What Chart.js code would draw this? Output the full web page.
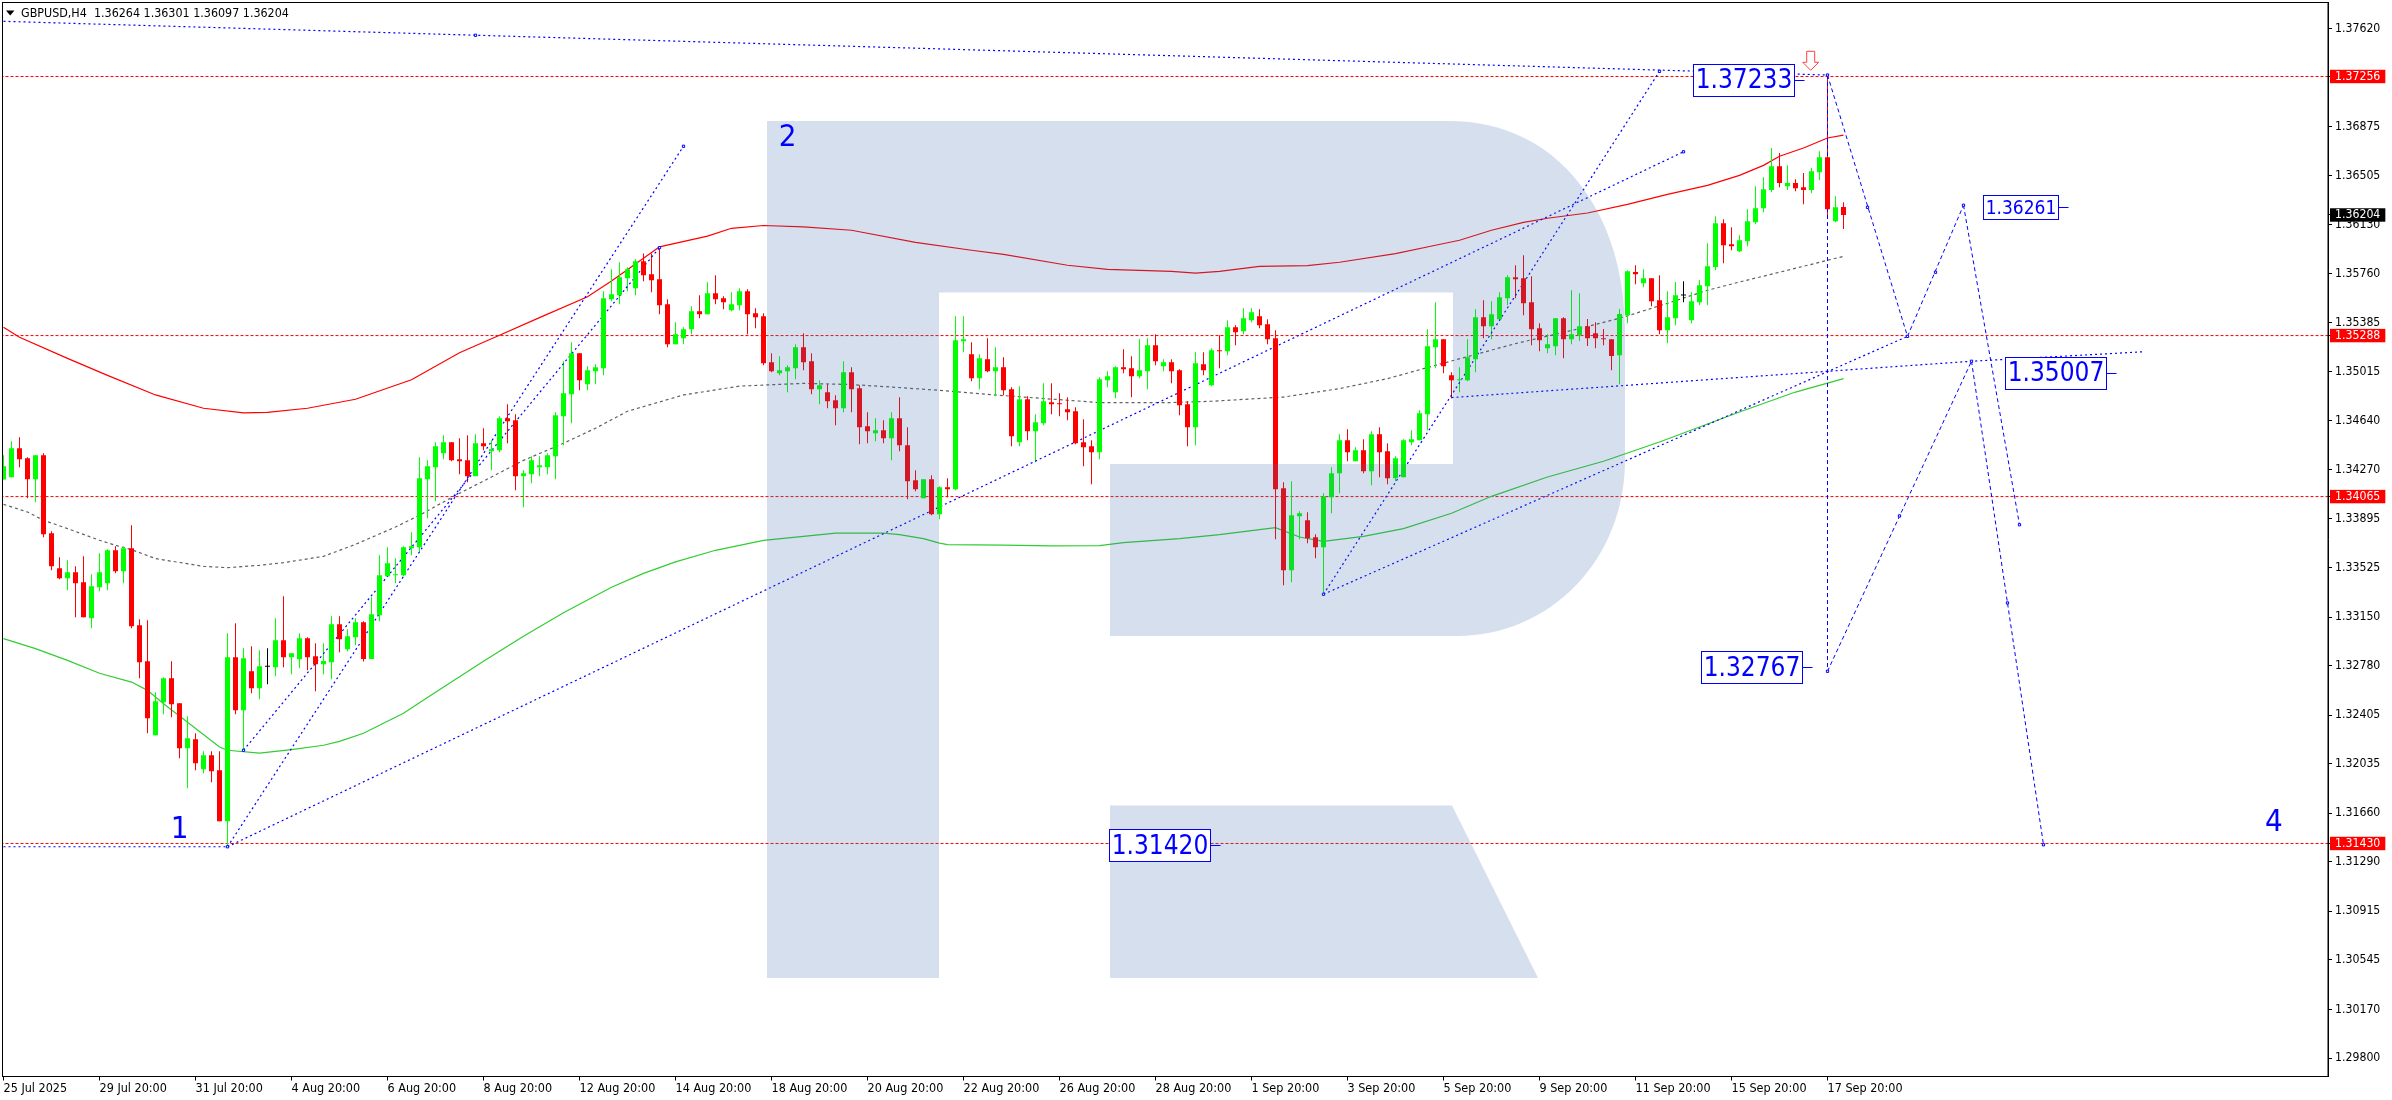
<!DOCTYPE html>
<html>
<head>
<meta charset="utf-8">
<title>GBPUSD,H4</title>
<script src="https://cdn.jsdelivr.net/npm/chart.js@4/dist/chart.umd.min.js"></script>
<style>
  html, body { margin: 0; padding: 0; background: #fff; }
  canvas { display: block; }
</style>
</head>
<body>
<canvas id="chart" width="2392" height="1100"></canvas>
<script>
// candles, one value per 4h bar, bar 0 = 25 Jul 2025
const opens = [
1.34194,1.34212,1.34432,1.34356,1.34197,1.34379,1.33787,1.33521,1.33445,1.33490,
1.33414,1.33141,1.33376,1.33407,1.33657,1.33498,1.33673,1.33088,1.32814,1.32252,
1.32503,1.32685,1.32495,1.32153,1.32222,1.31994,1.32100,1.31986,1.31599,1.32845,
1.32442,1.32738,1.32609,1.32773,1.32769,1.32974,1.32845,1.32830,1.32989,1.32852,
1.32791,1.32807,1.33095,1.32905,1.32996,1.33110,1.32832,1.33163,1.33460,1.33467,
1.33467,1.33672,1.33680,1.34197,1.34288,1.34394,1.34478,1.34348,1.34341,1.34219,
1.34470,1.34409,1.34417,1.34660,1.34645,1.34219,1.34235,1.34288,1.34288,1.34371,
1.34675,1.34842,1.35154,1.34918,1.35017,1.35040,1.35564,1.35594,1.35723,1.35647,
1.35852,1.35754,1.35716,1.35526,1.35222,1.35268,1.35336,1.35473,1.35450,1.35609,
1.35571,1.35480,1.35518,1.35625,1.35457,1.35435,1.35085,1.35002,1.35017,1.35040,
1.35199,1.35093,1.34880,1.34857,1.34797,1.34736,1.35009,1.34888,1.34599,1.34546,
1.34569,1.34508,1.34660,1.34455,1.34189,1.34052,1.34196,1.33930,1.34136,1.34120,
1.35245,1.35146,1.34964,1.35108,1.35017,1.35047,1.34880,1.34477,1.34804,1.34561,
1.34622,1.34781,1.34774,1.34728,1.34713,1.34477,1.34447,1.34401,1.34948,1.34857,
1.35047,1.35039,1.34979,1.35017,1.35214,1.35055,1.35085,1.35024,1.34766,1.34591,
1.35070,1.34910,1.35176,1.35169,1.35351,1.35321,1.35404,1.35435,1.35374,1.35268,
1.34128,1.33505,1.33915,1.33885,1.33756,1.33680,1.34060,1.34242,1.34493,1.34333,
1.34417,1.34257,1.34538,1.34409,1.34204,1.34212,1.34478,1.34493,1.34690,1.35199,
1.35260,1.34986,1.34949,1.34949,1.35108,1.35427,1.35359,1.35412,1.35571,1.35731,
1.35723,1.35541,1.35344,1.35192,1.35207,1.35420,1.35261,1.35291,1.35359,1.35306,
1.35268,1.35261,1.35139,1.35443,1.35770,1.35686,1.35724,1.35557,1.35329,1.35420,
1.35592,1.35405,1.35542,1.35663,1.35808,1.36142,1.35982,1.35929,1.36005,1.36149,
1.36256,1.36393,1.36575,1.36423,1.36446,1.36415,1.36393,1.36529,1.36643,1.36157,1.36264];

const highs = [
1.34379,1.34485,1.34516,1.34364,1.34379,1.34394,1.33802,1.33604,1.33582,1.33536,
1.33612,1.33475,1.33635,1.33665,1.33688,1.33688,1.33847,1.33133,1.33126,1.32579,
1.32693,1.32814,1.32495,1.32397,1.32267,1.32131,1.32131,1.32131,1.33027,1.33103,
1.32913,1.32928,1.32898,1.32913,1.33141,1.33308,1.32875,1.33027,1.32997,1.32951,
1.32951,1.33156,1.33156,1.33057,1.33141,1.33118,1.33300,1.33619,1.33680,1.33596,
1.33688,1.33794,1.34364,1.34341,1.34478,1.34531,1.34478,1.34508,1.34531,1.34538,
1.34584,1.34493,1.34675,1.34766,1.34690,1.34265,1.34371,1.34371,1.34394,1.34705,
1.35093,1.35237,1.35154,1.35055,1.35070,1.35625,1.35792,1.35845,1.35807,1.35868,
1.35911,1.35911,1.35956,1.35564,1.35389,1.35351,1.35511,1.35594,1.35693,1.35746,
1.35587,1.35617,1.35647,1.35640,1.35495,1.35457,1.35154,1.35131,1.35062,1.35222,
1.35305,1.35154,1.34948,1.34918,1.34835,1.35093,1.35047,1.34910,1.34705,1.34660,
1.34645,1.34705,1.34819,1.34591,1.34265,1.34196,1.34227,1.34143,1.34204,1.35434,
1.35434,1.35237,1.35146,1.35267,1.35199,1.35123,1.34895,1.34903,1.34827,1.34690,
1.34926,1.34926,1.34850,1.34819,1.34743,1.34652,1.34493,1.34971,1.35017,1.35055,
1.35184,1.35131,1.35260,1.35267,1.35298,1.35108,1.35108,1.35032,1.34789,1.35161,
1.35161,1.35191,1.35290,1.35404,1.35366,1.35495,1.35495,1.35488,1.35412,1.35328,
1.34174,1.34181,1.33953,1.33946,1.33779,1.34090,1.34288,1.34538,1.34576,1.34440,
1.34500,1.34561,1.34592,1.34470,1.34371,1.34500,1.34569,1.34721,1.35336,1.35541,
1.35260,1.35009,1.35047,1.35260,1.35488,1.35556,1.35549,1.35617,1.35746,1.35822,
1.35898,1.35739,1.35381,1.35298,1.35419,1.35428,1.35633,1.35610,1.35413,1.35390,
1.35337,1.35261,1.35489,1.35785,1.35823,1.35792,1.35724,1.35747,1.35625,1.35694,
1.35701,1.35618,1.35709,1.35990,1.36195,1.36172,1.36111,1.36051,1.36248,1.36423,
1.36491,1.36712,1.36674,1.36582,1.36476,1.36522,1.36560,1.36689,1.37266,1.36347,1.36301];

const lows = [
1.34194,1.34212,1.34288,1.34052,1.34022,1.33756,1.33506,1.33437,1.33354,1.33149,
1.33149,1.33065,1.33346,1.33354,1.33483,1.33407,1.33065,1.32685,1.32267,1.32252,
1.32412,1.32389,1.32077,1.31850,1.31986,1.31964,1.31895,1.31599,1.31417,1.32412,
1.32138,1.32571,1.32526,1.32640,1.32700,1.32769,1.32716,1.32761,1.32746,1.32586,
1.32715,1.32677,1.32882,1.32890,1.32936,1.32812,1.32832,1.33118,1.33455,1.33407,
1.33460,1.33619,1.33642,1.33900,1.34029,1.34348,1.34333,1.34235,1.34174,1.34219,
1.34417,1.34265,1.34402,1.34470,1.34113,1.33984,1.34166,1.34219,1.34235,1.34197,
1.34455,1.34622,1.34873,1.34873,1.34918,1.34987,1.35549,1.35526,1.35625,1.35594,
1.35700,1.35617,1.35450,1.35199,1.35222,1.35222,1.35298,1.35419,1.35450,1.35526,
1.35488,1.35473,1.35480,1.35298,1.35343,1.35062,1.35009,1.34986,1.34857,1.34956,
1.35024,1.34842,1.34766,1.34736,1.34607,1.34705,1.34705,1.34462,1.34470,1.34485,
1.34470,1.34341,1.34409,1.34045,1.34105,1.34052,1.33923,1.33892,1.34060,1.34113,
1.35161,1.34941,1.34880,1.35009,1.34827,1.34834,1.34447,1.34447,1.34493,1.34325,
1.34606,1.34690,1.34675,1.34644,1.34462,1.34295,1.34158,1.34348,1.34895,1.34812,
1.35001,1.34819,1.34964,1.34880,1.35062,1.35017,1.34926,1.34682,1.34447,1.34455,
1.34986,1.34903,1.35039,1.35138,1.35214,1.35298,1.35389,1.35344,1.35222,1.33741,
1.33391,1.33414,1.33741,1.33710,1.33596,1.33323,1.33938,1.34090,1.34333,1.34333,
1.34242,1.34151,1.34212,1.34159,1.34181,1.34212,1.34455,1.34493,1.34569,1.35040,
1.35002,1.34812,1.34857,1.34941,1.35009,1.35268,1.35260,1.35404,1.35518,1.35571,
1.35442,1.35214,1.35169,1.35154,1.35138,1.35116,1.35223,1.35246,1.35208,1.35192,
1.35215,1.35025,1.34919,1.35382,1.35678,1.35656,1.35511,1.35299,1.35230,1.35367,
1.35542,1.35382,1.35519,1.35519,1.35785,1.35838,1.35937,1.35922,1.35967,1.36134,
1.36225,1.36377,1.36415,1.36393,1.36385,1.36286,1.36370,1.36468,1.36187,1.36149,1.36097];

const closes = [
1.34296,1.34432,1.34349,1.34197,1.34379,1.33779,1.33536,1.33445,1.33490,1.33407,
1.33149,1.33384,1.33490,1.33657,1.33498,1.33673,1.33080,1.32807,1.32381,1.32510,
1.32685,1.32488,1.32153,1.32229,1.32040,1.32100,1.31979,1.31599,1.32845,1.32442,
1.32837,1.32609,1.32776,1.32773,1.32974,1.32845,1.32875,1.32989,1.32845,1.32792,
1.32817,1.33095,1.32981,1.33004,1.33110,1.32832,1.33171,1.33467,1.33558,1.33475,
1.33680,1.33688,1.34204,1.34295,1.34447,1.34478,1.34341,1.34333,1.34219,1.34470,
1.34447,1.34424,1.34660,1.34637,1.34219,1.34242,1.34341,1.34303,1.34379,1.34683,
1.34850,1.35154,1.34949,1.35025,1.35047,1.35571,1.35602,1.35731,1.35792,1.35852,
1.35746,1.35708,1.35518,1.35222,1.35298,1.35336,1.35473,1.35450,1.35609,1.35564,
1.35541,1.35526,1.35625,1.35450,1.35427,1.35078,1.35017,1.35024,1.35047,1.35199,
1.35085,1.34880,1.34910,1.34789,1.34736,1.35009,1.34880,1.34591,1.34561,1.34569,
1.34508,1.34660,1.34455,1.34181,1.34121,1.34196,1.33931,1.34136,1.34120,1.35252,
1.35260,1.34964,1.35115,1.35017,1.35047,1.34872,1.34523,1.34804,1.34561,1.34629,
1.34789,1.34766,1.34766,1.34705,1.34470,1.34439,1.34401,1.34956,1.34979,1.35047,
1.35032,1.34979,1.35024,1.35214,1.35093,1.35085,1.35017,1.34758,1.34591,1.35077,
1.35024,1.35176,1.35169,1.35351,1.35313,1.35419,1.35465,1.35366,1.35260,1.34121,
1.33505,1.33923,1.33938,1.33748,1.33680,1.34067,1.34242,1.34493,1.34402,1.34417,
1.34257,1.34538,1.34402,1.34204,1.34356,1.34493,1.34500,1.34698,1.35207,1.35260,
1.35055,1.34949,1.34956,1.35123,1.35427,1.35359,1.35450,1.35579,1.35731,1.35716,
1.35533,1.35336,1.35252,1.35222,1.35419,1.35261,1.35299,1.35359,1.35268,1.35268,
1.35261,1.35132,1.35451,1.35777,1.35754,1.35724,1.35549,1.35329,1.35428,1.35595,
1.35592,1.35549,1.35671,1.35815,1.36142,1.35975,1.35967,1.36013,1.36157,1.36256,
1.36400,1.36575,1.36446,1.36446,1.36408,1.36393,1.36537,1.36643,1.36248,1.36263,1.36204];

// upper, middle and lower band, read at the bars where they bend
const upperBars = [0,2,8,13,19,25,30,33,38,44,51,57,62,67,73,76,80,82,88,91,95,100,106,114,121,125,133,138,146,149,152,157,163,167,174,179,182,186,190,193,198,203,208,213,217,220,222,225,228,230];
const upperBand = [1.35351,1.35275,1.35115,1.34986,1.34837,1.34736,1.34701,1.34705,1.34736,1.34804,1.34952,1.35157,1.35290,1.35424,1.35583,1.35703,1.35876,1.35962,1.36044,1.36103,1.36124,1.36113,1.36088,1.35996,1.35936,1.35905,1.35822,1.35791,1.35776,1.35763,1.35776,1.35814,1.35819,1.35845,1.35911,1.35974,1.36012,1.36088,1.36148,1.36179,1.36219,1.36285,1.36361,1.36429,1.36505,1.36581,1.36650,1.36713,1.36789,1.36811];

const middleBars = [0,3,5,8,12,14,16,19,25,28,32,35,40,44,49,52,55,57,61,65,70,74,78,85,92,100,106,111,117,125,137,146,151,160,167,173,179,189,197,202,208,213,217,223,230];
const middleBand = [1.34006,1.33948,1.33885,1.33822,1.33733,1.33695,1.33662,1.33594,1.33535,1.33525,1.33543,1.33563,1.33611,1.33702,1.33834,1.33923,1.34024,1.34090,1.34214,1.34340,1.34470,1.34584,1.34713,1.34837,1.34904,1.34925,1.34916,1.34897,1.34872,1.34832,1.34779,1.34779,1.34789,1.34821,1.34885,1.34961,1.35062,1.35227,1.35341,1.35419,1.35533,1.35632,1.35695,1.35784,1.35890];

const lowerBars = [0,4,8,12,16,18,20,22,27,28,32,36,40,42,45,50,54,60,65,70,76,80,84,89,95,100,104,110,112,115,117,118,125,131,137,140,147,152,159,162,165,170,175,181,186,193,200,207,217,224,230];
const lowerBand = [1.32986,1.32910,1.32821,1.32723,1.32656,1.32593,1.32492,1.32398,1.32163,1.32138,1.32117,1.32143,1.32176,1.32206,1.32267,1.32419,1.32578,1.32814,1.33004,1.33183,1.33376,1.33482,1.33569,1.33657,1.33733,1.33763,1.33788,1.33788,1.33776,1.33746,1.33712,1.33700,1.33697,1.33690,1.33693,1.33715,1.33746,1.33776,1.33829,1.33758,1.33725,1.33763,1.33822,1.33938,1.34067,1.34214,1.34333,1.34480,1.34707,1.34859,1.34961];

// horizontal levels and price axis
const levelPrices = [1.37256, 1.35288, 1.34065, 1.31430];
const currentPrice = 1.36204;
const axisPrices = [1.37620,1.36875,1.36505,1.36130,1.35760,1.35385,1.35015,1.34640,1.34270,1.33895,1.33525,1.33150,1.32780,1.32405,1.32035,1.31660,1.31290,1.30915,1.30545,1.30170,1.29800];

// time axis, one label every 12 bars
const timeTickBars = [0,12,24,36,48,60,72,84,96,108,120,132,144,156,168,180,192,204,216,228];
const timeLabels = ['25 Jul 2025','29 Jul 20:00','31 Jul 20:00','4 Aug 20:00','6 Aug 20:00','8 Aug 20:00','12 Aug 20:00','14 Aug 20:00','18 Aug 20:00','20 Aug 20:00','22 Aug 20:00','26 Aug 20:00','28 Aug 20:00','1 Sep 20:00','3 Sep 20:00','5 Sep 20:00','9 Sep 20:00','11 Sep 20:00','15 Sep 20:00','17 Sep 20:00'];

// dotted fan lines, then the longer dashed forecast legs
const fanBars = [[0,228],[0,28],[28,85],[30,82],[28,210],[165,207],[165,238],[181,246,267.5]];
const fanPrices = [
  [1.37675,1.37267],[1.31405,1.31405],[1.31405,1.36726],[1.32138,1.35956],[1.31405,1.36684],
  [1.33323,1.37295],[1.33323,1.35282],[1.34817,1.35093,1.35165]
];
const forecastBars = [[228,238],[238,245],[245,252],[228,228],[228,246],[246,255]];
const forecastPrices = [
  [1.37267,1.35282],[1.35282,1.36278],[1.36278,1.33851],[1.37267,1.32738],[1.32738,1.35093],[1.35093,1.31420]
];
const markerBars = [59,85,82,210,207,228,233,241.5,238,245,246,237,252,250.5,255,228,165,28,30];
const markerPrices = [1.37569,1.36726,1.35956,1.36684,1.37295,1.37267,1.36262,1.35769,1.35282,1.36278,1.35093,1.33918,1.33851,1.33257,1.31420,1.32738,1.33323,1.31405,1.32138];

// boxed price labels, the box ends at labelBars
const labelTexts = ['1.37233','1.36261','1.35007','1.32767','1.31420'];
const labelBars = [223.75, 256.76, 262.76, 224.75, 150.78];
const labelPrices = [1.37233, 1.36261, 1.35007, 1.32767, 1.31420];
const labelSizes = [26, 19, 26, 26, 26];

// wave numbers
const waveTexts = ['1', '2', '4'];
const waveBars = [22, 98, 283.8];
const wavePrices = [1.31553, 1.36809, 1.31606];

const arrowBar = 225.9;
const arrowPrice = 1.37379;

const header = 'GBPUSD,H4  1.36264 1.36301 1.36097 1.36204';
const fontName = '"DejaVu Sans Condensed", "DejaVu Sans", sans-serif';

function candleColor(i) {
  if (closes[i] === opens[i]) return '#000000';
  return closes[i] > opens[i] ? '#00ff00' : '#ff0000';
}

function toPoints(bars, values) {
  return bars.map((b, i) => ({ x: b, y: values[i] }));
}

const datasets = [
  {
    type: 'bar', label: 'bodies', order: 1, grouped: false,
    data: opens.map((o, i) => ({ x: i, y: [o, closes[i]] })),
    barThickness: 5, minBarLength: 1, borderWidth: 0, inflateAmount: 0,
    backgroundColor: c => candleColor(c.dataIndex)
  },
  {
    type: 'bar', label: 'wicks', order: 2, grouped: false,
    data: highs.map((h, i) => ({ x: i, y: [lows[i], h] })),
    barThickness: 1, borderWidth: 0, inflateAmount: 0,
    backgroundColor: c => candleColor(c.dataIndex)
  },
  { type: 'line', order: 3, data: toPoints(upperBars, upperBand), borderColor: '#ff0000', borderWidth: 1.2, pointRadius: 0 },
  { type: 'line', order: 3, data: toPoints(lowerBars, lowerBand), borderColor: '#32cd32', borderWidth: 1.2, pointRadius: 0 },
  { type: 'line', order: 3, data: toPoints(middleBars, middleBand), borderColor: '#606060', borderWidth: 1.2, borderDash: [3, 3], pointRadius: 0 },
  {
    type: 'line', order: 0, data: toPoints(markerBars, markerPrices), showLine: false,
    pointStyle: 'rect', pointRadius: 1.6, pointBorderWidth: 1, pointBorderColor: '#0000ff', pointBackgroundColor: '#ffffff'
  }
];

levelPrices.forEach(p => {
  datasets.push({
    type: 'line', order: 4, data: [{ x: -1, y: p }, { x: 291, y: p }],
    borderColor: '#ff0000', borderWidth: 1, borderDash: [3, 2], pointRadius: 0
  });
});

fanBars.forEach((bars, i) => {
  datasets.push({
    type: 'line', order: 1, data: toPoints(bars, fanPrices[i]),
    borderColor: '#0000ff', borderWidth: 1.2, borderDash: [2, 3], pointRadius: 0
  });
});

forecastBars.forEach((bars, i) => {
  datasets.push({
    type: 'line', order: 1, data: toPoints(bars, forecastPrices[i]),
    borderColor: '#0000ff', borderWidth: 1, borderDash: [4, 3], pointRadius: 0
  });
});

// watermark goes over the candles, then labels on top
const decorations = {
  id: 'decorations',
  afterDatasetsDraw(chart) {
    const { ctx, chartArea, scales: { x, y } } = chart;
    ctx.save();

    ctx.fillStyle = 'rgba(60,106,170,0.216)';
    ctx.beginPath();
    ctx.moveTo(767, 121);
    ctx.lineTo(1449, 121);
    ctx.bezierCurveTo(1560, 121, 1625, 215, 1625, 330);
    ctx.lineTo(1625, 460);
    ctx.bezierCurveTo(1625, 560, 1550, 636, 1457, 636);
    ctx.lineTo(1110, 636);
    ctx.lineTo(1110, 464);
    ctx.lineTo(1453, 464);
    ctx.lineTo(1453, 292.5);
    ctx.lineTo(939, 292.5);
    ctx.lineTo(939, 978);
    ctx.lineTo(767, 978);
    ctx.closePath();
    ctx.moveTo(1110, 805.5);
    ctx.lineTo(1452, 805.5);
    ctx.lineTo(1538, 978);
    ctx.lineTo(1110, 978);
    ctx.closePath();
    ctx.fill();

    // boxed labels with their little tail
    ctx.textBaseline = 'middle';
    labelTexts.forEach((t, i) => {
      const right = Math.round(x.getPixelForValue(labelBars[i])) + 0.5;
      const mid = y.getPixelForValue(labelPrices[i]);
      const size = labelSizes[i];
      ctx.font = size + 'px ' + fontName;
      const w = Math.round(ctx.measureText(t).width) + 4;
      const h = size > 20 ? 32 : 24;
      const top = Math.round(mid - h / 2) + 0.5;
      ctx.fillStyle = '#ffffff';
      ctx.fillRect(right - w, top, w, h);
      ctx.strokeStyle = '#0000ff';
      ctx.lineWidth = 1;
      ctx.strokeRect(right - w, top, w, h);
      ctx.beginPath();
      ctx.moveTo(right, Math.round(mid) + 0.5);
      ctx.lineTo(right + 10, Math.round(mid) + 0.5);
      ctx.stroke();
      ctx.fillStyle = '#0000ff';
      ctx.textAlign = 'center';
      ctx.fillText(t, right - w / 2, mid + 2);
    });

    ctx.font = '31px ' + fontName;
    ctx.fillStyle = '#0000ff';
    ctx.textAlign = 'center';
    waveTexts.forEach((t, i) => {
      ctx.fillText(t, x.getPixelForValue(waveBars[i]), y.getPixelForValue(wavePrices[i]) + 3);
    });

    // red arrow above the last high
    const ax = x.getPixelForValue(arrowBar);
    const ay = y.getPixelForValue(arrowPrice);
    ctx.beginPath();
    ctx.moveTo(ax - 4, ay - 9);
    ctx.lineTo(ax + 4, ay - 9);
    ctx.lineTo(ax + 4, ay + 2);
    ctx.lineTo(ax + 8, ay + 2);
    ctx.lineTo(ax, ay + 10);
    ctx.lineTo(ax - 8, ay + 2);
    ctx.lineTo(ax - 4, ay + 2);
    ctx.closePath();
    ctx.fillStyle = '#ffffff';
    ctx.fill();
    ctx.strokeStyle = '#ff4040';
    ctx.lineWidth = 1;
    ctx.stroke();

    // header
    ctx.fillStyle = '#000000';
    ctx.beginPath();
    ctx.moveTo(6, 10.5);
    ctx.lineTo(14.5, 10.5);
    ctx.lineTo(10.2, 15.5);
    ctx.closePath();
    ctx.fill();
    ctx.font = '12.4px ' + fontName;
    ctx.textAlign = 'left';
    ctx.fillText(header, 21, 13.5);

    // frame
    ctx.strokeStyle = '#000000';
    ctx.lineWidth = 1;
    ctx.strokeRect(2.5, chartArea.top, chartArea.right - 2.5, chartArea.bottom - chartArea.top);
    ctx.restore();
  }
};

const priceTicks = axisPrices.concat(levelPrices, [currentPrice]);

new Chart(document.getElementById('chart').getContext('2d'), {
  type: 'bar',
  data: { datasets: datasets },
  options: {
    responsive: false,
    devicePixelRatio: 1,
    animation: false,
    layout: { autoPadding: false, padding: { left: 2, top: 2.5, right: 0, bottom: 0 } },
    plugins: { legend: { display: false }, tooltip: { enabled: false } },
    scales: {
      x: {
        type: 'linear',
        position: 'bottom',
        offset: false,
        min: -0.1875,
        max: 290.5625,
        grid: { offset: false, drawOnChartArea: false, tickLength: 4, color: '#000000' },
        border: { display: true, color: '#000000' },
        afterBuildTicks: s => { s.ticks = timeTickBars.map(v => ({ value: v })); },
        afterFit: s => { s.height = 23.5; s.paddingLeft = 0; s.paddingRight = 0; },
        ticks: {
          autoSkip: false,
          maxRotation: 0,
          minRotation: 0,
          align: 'start',
          padding: 1,
          color: '#000000',
          font: { family: fontName, size: 12.5 },
          callback: (v, i) => timeLabels[i]
        }
      },
      y: {
        position: 'right',
        min: 1.2966,
        max: 1.37818,
        grid: { drawOnChartArea: false, tickLength: 4, color: '#000000' },
        border: { display: true, color: '#000000' },
        afterBuildTicks: s => { s.ticks = priceTicks.map(v => ({ value: v })); },
        afterFit: s => { s.width = 64; s.paddingTop = 0; s.paddingBottom = 0; },
        ticks: {
          autoSkip: false,
          crossAlign: 'near',
          padding: 3,
          font: { family: fontName, size: 12.2, lineHeight: 1.1 },
          callback: v => v.toFixed(5),
          color: c => (levelPrices.includes(c.tick.value) || c.tick.value === currentPrice) ? '#ffffff' : '#000000',
          showLabelBackdrop: c => levelPrices.includes(c.tick.value) || c.tick.value === currentPrice,
          backdropColor: c => c.tick.value === currentPrice ? '#000000' : '#ff0000',
          backdropPadding: { left: 5, right: 5, top: 0, bottom: 0 }
        }
      }
    }
  },
  plugins: [decorations]
});
</script>
</body>
</html>
